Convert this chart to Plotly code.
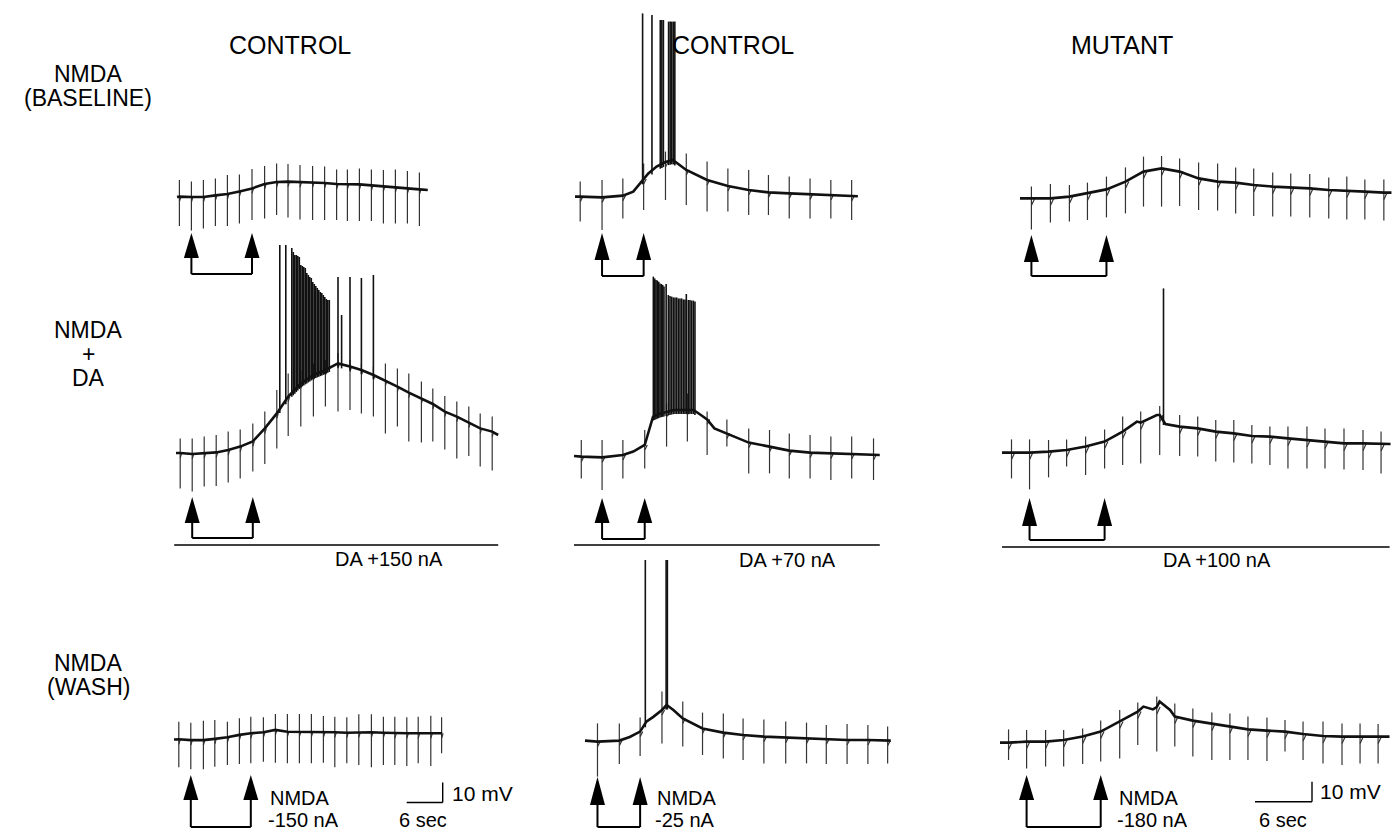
import numpy as np
import plotly.graph_objects as go

W, H = 1392, 831

# ---------------- DATA ----------------
# Columns: A = CONTROL (left), B = CONTROL (middle), C = MUTANT (right)
# Rows: 1 = NMDA (baseline), 2 = NMDA + DA, 3 = NMDA (wash)
# time in s, membrane potential in mV relative to the resting level before NMDA

A1_base_t = [0, 0.4, 2.4, 4.4, 6.4, 8.4, 10.4, 12.5, 14.6, 16.6, 18.5, 20.5, 22.6, 24.6, 26.6, 28.4, 30.4, 32.4, 34.4, 36.4, 38.4, 40.4, 41.8]
A1_base_v = [0, 0.2, 0, 0, 0.8, 1.5, 2.8, 4.3, 6.5, 7.5, 7.7, 7.5, 7.4, 7.0, 6.5, 6.4, 6.3, 5.8, 5.4, 4.9, 4.3, 3.8, 3.5]
A1_pulse_t = [0.4, 2.4, 4.4, 6.4, 8.4, 10.4, 12.5, 14.6, 16.6, 18.5, 20.5, 22.6, 24.6, 26.6, 28.4, 30.4, 32.4, 34.4, 36.4, 38.4, 40.4]
A1_pulse_up = [8.5, 7.7, 8.5, 9.3, 11, 11.3, 14, 15.5, 16.8, 16.5, 16, 15.5, 15.2, 13.8, 13.8, 14.3, 13.8, 13.5, 13.8, 13, 12.2]
A1_pulse_dn = [-14.5, -16.8, -15.7, -14.5, -14.5, -13.2, -11.5, -10.7, -9, -10.2, -11.2, -11.5, -11.5, -11.5, -12, -12, -12, -13.2, -13.2, -13.2, -14.5]
A1_spike_t = []
A1_spike_v = []
A1_nmda_t = [2.4, 12.5]

A2_base_t = [0, 0.7, 2.7, 4.7, 6.7, 8.7, 10.7, 12.8, 14.8, 16.8, 18.7, 20.8, 22.9, 24.9, 27.0, 29.0, 30.9, 32.9, 34.9, 36.9, 38.8, 40.9, 42.8, 44.8, 46.8, 48.8, 50.7, 52.7, 53.7]
A2_base_v = [0, 0, -0.5, 0, 0.3, 1.5, 3.2, 5.8, 12.3, 19.8, 28.2, 34.8, 39, 41.5, 44.8, 43.2, 41.5, 39, 36.2, 33.2, 30.2, 27.3, 24.5, 20.7, 18.2, 15.2, 12.3, 10.7, 9]
A2_pulse_t = [0.7, 2.7, 4.7, 6.7, 8.7, 10.7, 12.8, 14.8, 16.8, 18.7, 20.8, 22.9, 24.9, 27.0, 29.0, 30.9, 32.9, 34.9, 36.9, 38.8, 40.9, 42.8, 44.8, 46.8, 48.8, 50.7, 52.7]
A2_pulse_up = [7.3, 7.3, 8.2, 9, 10.7, 11.8, 14.8, 20.7, 31.5, 39.8, 41.5, 44.8, 46.5, 50, 46.5, 44.8, 43.2, 44.8, 42.3, 39.8, 35.7, 32.3, 28.5, 25.7, 23.2, 19.8, 18.2]
A2_pulse_dn = [-17.7, -19.3, -16.8, -16.5, -14.8, -12.7, -9.3, -5.5, 2.3, 8.5, 13.2, 18.2, 23.2, 20.7, 21.5, 19.8, 18.2, 9.8, 13.2, 5.7, 5.2, 5.7, 1.8, -2.7, -1.5, -6.8, -8.8]
A2_spike_t = [17.3, 18.3, 19.3, 19.55, 19.8, 20.05, 20.3, 20.55, 20.8, 21.05, 21.3, 21.55, 21.8, 22.05, 22.3, 22.55, 22.8, 23.05, 23.3, 23.55, 23.8, 24.05, 24.3, 24.55, 24.8, 25.05, 25.3, 25.55, 27.0, 27.6, 29.0, 30.9, 32.9]
A2_spike_v = [104, 104, 102.5, 100.5, 99, 99, 98.5, 98, 94, 93.5, 93, 92.5, 90, 89, 88, 87.5, 85.5, 84.5, 83.5, 82.5, 81.5, 80.5, 80, 79, 78, 77, 76.5, 76.5, 88, 69, 88, 87.5, 89]
A2_nmda_t = [2.7, 12.8]
A2_da_t = [-0.3, 53.7]

A3_base_t = [0, 0.8, 2.8, 4.9, 6.8, 8.9, 10.9, 12.8, 14.9, 16.9, 18.9, 20.9, 22.9, 24.9, 26.8, 28.8, 30.8, 32.9, 34.9, 36.8, 38.8, 40.7, 42.8, 44.6, 44.7]
A3_base_v = [0, 0.1, -0.3, -0.3, 0.3, 1.1, 2.3, 3.1, 3.6, 4.8, 3.9, 3.9, 3.8, 3.6, 3.6, 3.4, 3.6, 3.6, 3.4, 3.1, 3.1, 3.1, 3.1, 3.1, 3.1]
A3_pulse_t = [0.8, 2.8, 4.9, 6.8, 8.9, 10.9, 12.8, 14.9, 16.9, 18.9, 20.9, 22.9, 24.9, 26.8, 28.8, 30.8, 32.9, 34.9, 36.8, 38.8, 40.7, 42.8, 44.6]
A3_pulse_up = [8.9, 8.4, 9.4, 9.8, 8.9, 10.6, 11.4, 11.1, 12.8, 12.8, 12.8, 12.8, 11.8, 11.4, 11.1, 12.6, 12.6, 11.4, 11.4, 11.1, 11.4, 11.9, 11.1]
A3_pulse_dn = [-13.9, -14.9, -14.9, -13.6, -12.8, -12.3, -11.9, -11.1, -11.6, -11.9, -11.9, -11.9, -11.6, -13.9, -11.9, -12.8, -13.9, -12.8, -12.8, -13.3, -11.9, -13.3, -6.9]
A3_spike_t = []
A3_spike_v = []
A3_nmda_t = [2.8, 12.8]

B1_base_t = [0, 0.5, 2.6, 4.6, 5.6, 6.4, 7.05, 7.85, 8.7, 9.4, 10.7, 12.7, 14.7, 16.7, 18.6, 20.6, 22.6, 24.6, 26.6, 27.2]
B1_base_v = [0.2, 0.2, -0.2, 0.7, 2.7, 7.7, 11.8, 15.2, 17.5, 18.5, 13.5, 8.5, 5.5, 3.5, 2.3, 1.8, 1.3, 1.0, 0.5, 0.4]
B1_pulse_t = [0.5, 2.6, 4.6, 6.6, 8.7, 10.7, 12.7, 14.7, 16.7, 18.6, 20.6, 22.6, 24.6, 26.6]
B1_pulse_up = [7.7, 8.5, 9.3, 16.8, 22.7, 21.8, 17.7, 14.3, 13.5, 11, 10.2, 9.3, 8.5, 8.5]
B1_pulse_dn = [-12.3, -16.5, -10.7, -6.5, -1.5, -4, -7.3, -7.3, -9, -9, -10.7, -10.7, -10.7, -11.5]
B1_spike_t = [6.5, 7.4, 8.2, 8.35, 8.5, 9.0, 9.15, 9.3, 9.45, 9.6]
B1_spike_v = [91.8, 91, 88.5, 88.5, 88.5, 87.7, 87.7, 87.7, 87.7, 87.7]
B1_nmda_t = [2.6, 6.6]

B2_base_t = [0, 0.7, 2.7, 4.7, 5.7, 6.8, 7.6, 8.3, 8.9, 9.6, 10.9, 11.5, 12.2, 12.8, 13.5, 14.7, 16.8, 18.8, 20.7, 22.7, 24.7, 26.7, 28.8, 29.4]
B2_base_v = [0, -0.3, -0.7, 0.5, 2.2, 5.5, 19.7, 21.3, 22, 23, 23, 23, 20.5, 18.3, 13.8, 11.3, 6.7, 4.7, 2.7, 1.7, 1.3, 1.0, 0.5, 0.5]
B2_pulse_t = [0.7, 2.7, 4.7, 6.8, 8.9, 10.9, 12.8, 14.7, 16.8, 18.8, 20.7, 22.7, 24.7, 26.7, 28.8]
B2_pulse_up = [8, 8, 8, 13, 26.3, 31.3, 22.2, 18.3, 13.8, 13, 11.3, 10.5, 9.7, 9.7, 8.8]
B2_pulse_dn = [-11.2, -17, -11.2, -6.2, 4.7, 7.2, 0.5, 4.7, -8.7, -8.7, -11.2, -11.2, -12, -11.2, -12]
B2_spike_t = [7.63, 7.76, 7.88, 8.0, 8.14, 8.27, 8.4, 8.53, 8.65, 8.86,
              9.07, 9.23, 9.39, 9.55, 9.71, 9.87, 10.03, 10.19, 10.35, 10.51, 10.67, 10.8, 10.99, 11.15, 11.31, 11.47, 11.63]
B2_spike_v = [89.7, 88.8, 88, 87.7, 87.2, 86.3, 86, 85.5, 84.7, 86,
              80.5, 80, 79.7, 79.3, 79.3, 79.3, 78.8, 78.8, 78.8, 78.3, 78.3, 81, 78, 78, 77.7, 77.7, 77.2]
B2_nmda_t = [2.7, 6.8]
B2_da_t = [0, 29.4]

B3_base_t = [0, 1.2, 3.3, 4.3, 5.3, 5.9, 6.6, 7.4, 7.85, 8.5, 9.4, 11.3, 13.3, 15.2, 17.2, 19.3, 21.3, 23.2, 25.2, 27.2, 29.1, 29.4]
B3_base_v = [0.2, -0.3, 0.2, 2, 4.7, 9.7, 12.2, 15.5, 18, 15.5, 11.3, 6.3, 4.2, 3, 2.2, 1.7, 1.3, 0.8, 0.5, 0.5, 0.2, 0.2]
B3_pulse_t = [1.2, 3.3, 5.3, 7.4, 9.4, 11.3, 13.3, 15.2, 17.2, 19.3, 21.3, 23.2, 25.2, 27.2, 29.1]
B3_pulse_up = [8.8, 8.8, 11.8, 24.7, 19.7, 14.2, 13.8, 11.3, 10.8, 9.7, 9.2, 8, 8.5, 8, 7.2]
B3_pulse_dn = [-17.8, -11.5, -7.5, -1.2, -2.8, -7, -8.7, -9.5, -11.2, -11.2, -11.2, -11.5, -11.5, -11.5, -11.2]
B3_spike_t = [5.8, 7.8, 7.92]
B3_spike_v = [90.5, 90.5, 90.5]
B3_nmda_t = [1.2, 5.3]

C1_base_t = [0, 1.2, 3.2, 5.2, 7.1, 9.1, 11.1, 13.0, 14.9, 16.8, 18.8, 20.8, 22.7, 24.6, 26.6, 28.5, 30.5, 32.5, 34.4, 36.3, 38.3, 39.1]
C1_base_v = [-0.2, -0.2, -0.2, 0.7, 2.3, 4.3, 8.2, 13.2, 14.8, 13.2, 9.8, 8.2, 7.7, 6.5, 5.7, 5.3, 4.8, 4.0, 3.7, 3.2, 2.7, 2.7]
C1_pulse_t = [1.2, 3.2, 5.2, 7.1, 9.1, 11.1, 13.0, 14.9, 16.8, 18.8, 20.8, 22.7, 24.6, 26.6, 28.5, 30.5, 32.5, 34.4, 36.3, 38.3]
C1_pulse_up = [5.7, 7, 6.5, 7.7, 10.7, 15.3, 20.7, 21, 19.8, 17.7, 17.3, 15.3, 14.8, 12.7, 12.3, 12, 10.3, 10.7, 9.3, 9.3]
C1_pulse_dn = [-15.7, -12.3, -11.8, -11, -9.7, -7.7, -4.3, -4.3, -4, -6, -6.3, -7.7, -9, -9.3, -9.3, -9.7, -10.2, -10.7, -10.7, -11.3]
C1_spike_t = []
C1_spike_v = []
C1_nmda_t = [1.2, 9.1]

C2_base_t = [0, 1.0, 2.9, 4.9, 6.8, 8.8, 10.8, 12.7, 14.2, 14.6, 16.3, 16.6, 17.2, 18.7, 20.6, 22.5, 24.4, 26.3, 28.2, 30.1, 32.1, 34.0, 36.0, 38.0, 39.9, 40.9]
C2_base_v = [0.2, 0.2, 0.2, 0.7, 1.5, 3.2, 5.7, 10.7, 15.7, 15.2, 19, 19, 14.5, 13.2, 12.3, 10.7, 9.8, 8.5, 8.2, 7.3, 6.5, 5.7, 4.8, 4.8, 4.5, 4.5]
C2_pulse_t = [1.0, 2.9, 4.9, 6.8, 8.8, 10.8, 12.7, 14.6, 16.6, 18.7, 20.6, 22.5, 24.4, 26.3, 28.2, 30.1, 32.1, 34.0, 36.0, 38.0, 39.9]
C2_pulse_up = [6.8, 6.8, 6.5, 6.8, 8.2, 11.8, 18.2, 20.7, 23.5, 19, 18.2, 16.5, 16.5, 14, 13.2, 13.2, 13.2, 12.3, 12.3, 11.5, 10.7]
C2_pulse_dn = [-12.7, -18.2, -12.2, -6.8, -11, -7.7, -6, -5.2, -1, -1.5, -1.8, -4.3, -4.8, -5.2, -6, -7.7, -7.7, -7.7, -8.2, -8.5, -10.2]
C2_spike_t = [17.0]
C2_spike_v = [82.3]
C2_nmda_t = [2.9, 10.8]
C2_da_t = [0, 40.8]

C3_base_t = [0, 0.9, 2.8, 4.8, 6.7, 8.7, 10.6, 12.6, 14.5, 15.1, 16.1, 16.5, 16.8, 17.9, 18.4, 20.3, 22.3, 24.2, 26.1, 28.1, 30.0, 31.9, 34.0, 36.0, 37.9, 39.8, 41.0]
C3_base_v = [0.2, 0.2, 0.7, 0.7, 1.5, 3.2, 5.7, 10.7, 15.7, 18.2, 16.8, 18, 20.7, 16.5, 13.2, 11.2, 9.8, 8.5, 6.8, 6.2, 5.7, 4.5, 3.5, 3.2, 3.2, 3.2, 3.2]
C3_pulse_t = [0.9, 2.8, 4.8, 6.7, 8.7, 10.6, 12.6, 14.5, 16.5, 18.4, 20.3, 22.3, 24.2, 26.1, 28.1, 30.0, 31.9, 34.0, 36.0, 37.9, 39.8]
C3_pulse_up = [6.8, 6.5, 6.5, 6.5, 7.3, 11.2, 16.5, 20.2, 23.2, 19.8, 17.3, 15.2, 14.8, 13.2, 12.8, 11.5, 10.7, 10.7, 9.8, 9.8, 9.5]
C3_pulse_dn = [-8.5, -12.7, -11.8, -11.8, -10.5, -9.3, -7.7, -1, -4.3, -1.8, -6.8, -8.5, -8.5, -8.5, -9, -4.3, -8.5, -10.2, -11, -10.2, -10.2]
C3_spike_t = []
C3_spike_v = []
C3_nmda_t = [2.8, 10.6]

col_titles = ["CONTROL", "CONTROL", "MUTANT"]
row_titles = [["NMDA", "(BASELINE)"], ["NMDA", "+", "DA"], ["NMDA", "(WASH)"]]
da_labels = ["DA +150 nA", "DA +70 nA", "DA +100 nA"]
nmda_labels = [["NMDA", "-150 nA"], ["NMDA", "-25 nA"], ["NMDA", "-180 nA"]]
scale_mv = 10
scale_s = 6

# ---------------- LAYOUT / STYLE ----------------
FONT = "Liberation Sans, Arial, Helvetica, sans-serif"
COLS = {1: (140, 548), 2: (552, 905), 3: (985, 1392)}
ROWS = {1: (0, 290), 2: (236, 604), 3: (548, 831)}
PX_PER_MV = 2.0

panels = [
    dict(n="A1", col=1, row=1, x0=177, pps=6.0, y0=197, arrow=(233, 258, 274)),
    dict(n="A2", col=1, row=2, x0=176, pps=6.0, y0=453, arrow=(497, 523, 538), da_y=545),
    dict(n="A3", col=1, row=3, x0=174, pps=6.0, y0=739.5, arrow=(775, 800, 827)),
    dict(n="B1", col=2, row=1, x0=575, pps=10.4, y0=197, arrow=(233, 260, 276)),
    dict(n="B2", col=2, row=2, x0=574, pps=10.4, y0=456, arrow=(498, 523, 539), da_y=545),
    dict(n="B3", col=2, row=3, x0=585, pps=10.4, y0=741, arrow=(777, 805, 827)),
    dict(n="C1", col=3, row=1, x0=1020, pps=9.5, y0=198, arrow=(235, 262, 276)),
    dict(n="C2", col=3, row=2, x0=1002, pps=9.5, y0=453, arrow=(498, 526, 540), da_y=547),
    dict(n="C3", col=3, row=3, x0=1000, pps=9.5, y0=743, arrow=(775, 800, 827)),
]

G = globals()
fig = go.Figure()
shapes = []
annotations = []
layout_axes = {}


def py(p):
    return 1 - p / H


for i, p in enumerate(panels, start=1):
    n = p["n"]
    sfx = "" if i == 1 else str(i)
    xa, xb = COLS[p["col"]]
    ya, yb = ROWS[p["row"]]
    layout_axes["xaxis" + sfx] = dict(domain=[xa / W, xb / W],
                                      range=[(xa - p["x0"]) / p["pps"], (xb - p["x0"]) / p["pps"]],
                                      visible=False, anchor="y" + sfx, fixedrange=True)
    layout_axes["yaxis" + sfx] = dict(domain=[1 - yb / H, 1 - ya / H],
                                      range=[(p["y0"] - yb) / PX_PER_MV, (p["y0"] - ya) / PX_PER_MV],
                                      visible=False, anchor="x" + sfx, fixedrange=True)
    xr, yr = "x" + sfx, "y" + sfx

    bt = np.array(G[n + "_base_t"], float)
    bv = np.array(G[n + "_base_v"], float)
    pt = G[n + "_pulse_t"]
    pu = G[n + "_pulse_up"]
    pd = G[n + "_pulse_dn"]
    st = G[n + "_spike_t"]
    sv = G[n + "_spike_v"]

    hook_s = 0.35 if p["col"] == 3 else 0.25
    hook_mv = 3.5 if p["col"] == 3 else 2.5

    vx, vy = [], []
    for t, u, d in zip(pt, pu, pd):
        b = float(np.interp(t, bt, bv))
        vx += [t, t, None, t, t + hook_s, None]
        vy += [u, d, None, b - hook_mv, b, None]
    sx, sy = [], []
    for t, v in zip(st, sv):
        b = float(np.interp(t, bt, bv))
        sx += [t, t, None]
        sy += [b - 2, v, None]

    fig.add_trace(go.Scatter(x=vx, y=vy, mode="lines", xaxis=xr, yaxis=yr,
                             line=dict(color="#333333", width=1.2), hoverinfo="skip",
                             showlegend=False, connectgaps=False))
    if sx:
        fig.add_trace(go.Scatter(x=sx, y=sy, mode="lines", xaxis=xr, yaxis=yr,
                                 line=dict(color="#111111", width=1.6), hoverinfo="skip",
                                 showlegend=False, connectgaps=False))
    fig.add_trace(go.Scatter(x=bt, y=bv, mode="lines", xaxis=xr, yaxis=yr,
                             line=dict(color="#111111", width=2.6), hoverinfo="skip",
                             showlegend=False))

    # NMDA application arrows and bracket
    tip, base, brk = p["arrow"]
    hw = 7.5 / p["pps"]
    nm = G[n + "_nmda_t"]
    for t in nm:
        shapes.append(dict(type="path", xref=xr, yref="paper",
                           path=f"M {t - hw},{py(base)} L {t},{py(tip)} L {t + hw},{py(base)} Z",
                           fillcolor="black", line=dict(width=0)))
        shapes.append(dict(type="line", xref=xr, yref="paper", x0=t, x1=t,
                           y0=py(base - 1), y1=py(brk), line=dict(color="black", width=2)))
    shapes.append(dict(type="line", xref=xr, yref="paper", x0=nm[0], x1=nm[1],
                       y0=py(brk), y1=py(brk), line=dict(color="black", width=2)))

    # DA application line
    if n + "_da_t" in G:
        da = G[n + "_da_t"]
        shapes.append(dict(type="line", xref=xr, yref="paper", x0=da[0], x1=da[1],
                           y0=py(p["da_y"]), y1=py(p["da_y"]), line=dict(color="black", width=1.6)))

    # scale bars
    if n in ("A3", "C3"):
        if n == "A3":
            sx0 = (406.7 - p["x0"]) / p["pps"]
            sy0 = (p["y0"] - 802.5) / PX_PER_MV
        else:
            sx0 = (1255 - p["x0"]) / p["pps"]
            sy0 = (p["y0"] - 801.7) / PX_PER_MV
        shapes.append(dict(type="line", xref=xr, yref=yr, x0=sx0, x1=sx0 + scale_s, y0=sy0, y1=sy0,
                           line=dict(color="black", width=1.4)))
        shapes.append(dict(type="line", xref=xr, yref=yr, x0=sx0 + scale_s, x1=sx0 + scale_s,
                           y0=sy0, y1=sy0 + scale_mv, line=dict(color="black", width=1.4)))


def txt(s, x, y, size=20, xanchor="center", h=None):
    a = dict(text=s, x=x / W, y=py(y), xref="paper", yref="paper", showarrow=False,
             xanchor=xanchor, yanchor="middle",
             font=dict(family=FONT, size=size, color="black"))
    if h is not None:
        a["height"] = h
        a["valign"] = "middle"
    annotations.append(a)


# column titles
for s, cx in zip(col_titles, [290, 733, 1122]):
    txt(s, cx, 45, size=25)
# row titles
for lines, ys in zip(row_titles, [[74, 98], [330, 354, 378], [663, 687]]):
    for s, yy in zip(lines, ys):
        txt(s, 88, yy, size=23)
# DA labels
for s, cx, yy in zip(da_labels, [389, 787, 1217], [559, 560, 560]):
    txt(s, cx, yy, size=20)
# NMDA current labels
for lines, lx in zip(nmda_labels, [268, 655, 1117]):
    txt(lines[0], lx, 798, size=20, xanchor="left", h=20)
    txt(lines[1], lx - 2, 820, size=20, xanchor="left", h=20)
# scale bar labels
txt(f"{scale_mv} mV", 450, 793, size=21, xanchor="left")
txt(f"{scale_s} sec", 397, 820, size=20, xanchor="left", h=20)
txt(f"{scale_mv} mV", 1318, 791, size=21, xanchor="left")
txt(f"{scale_s} sec", 1257, 820, size=20, xanchor="left", h=20)

fig.update_layout(width=W, height=H, margin=dict(l=0, r=0, t=0, b=0),
                  paper_bgcolor="white", plot_bgcolor="rgba(0,0,0,0)",
                  shapes=shapes, annotations=annotations, showlegend=False, **layout_axes)

fig.write_html("out.html", config={"displayModeBar": False},
               post_script="document.body.style.margin='0px';document.body.style.overflow='hidden';")
